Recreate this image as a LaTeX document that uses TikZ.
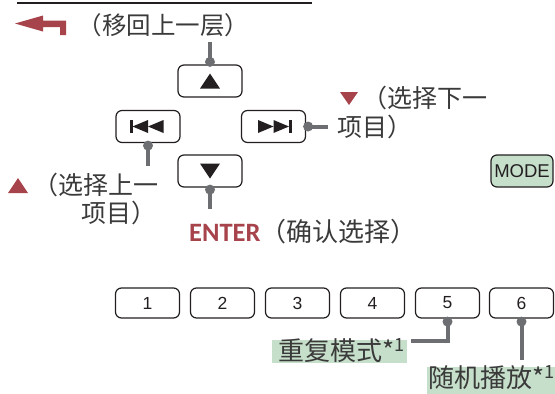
\documentclass[tikz,border=0pt]{standalone}
\usepackage{fontspec}
\newfontfamily\cjk{Noto Sans CJK SC}
\newfontfamily\arial{Liberation Sans}
\newfontfamily\entfont{Carlito}
\definecolor{redc}{HTML}{A6434B}
\definecolor{greyc}{HTML}{6D6E71}
\definecolor{txt}{HTML}{3A3A3A}
\definecolor{greenc}{HTML}{C6DFCA}
\definecolor{ink}{HTML}{231F20}
\begin{document}
\begin{tikzpicture}[x=1pt,y=-1pt,
  btn/.style={draw=ink, line width=1.2pt, rounded corners=6pt, minimum width=64pt, minimum height=32pt, inner sep=0pt},
  nbtn/.style={btn, minimum height=30pt, font=\arial\fontsize{17.5}{20}\selectfont, text=ink},
  conn/.style={draw=greyc, line width=4pt},
  dotc/.style={fill=greyc},
  lbl/.style={inner sep=0pt, text=txt, font=\cjk\fontsize{25}{28}\selectfont},
  glbl/.style={fill=greenc, inner ysep=0pt, text=txt, font=\cjk\fontsize{26}{28}\selectfont, text height=20pt, text depth=3pt},
  sym/.style={fill=ink}
]
\useasboundingbox (0,0) rectangle (555,394);

% cropped header underline
\draw[ink, line width=1.8pt] (17,3) -- (312,3);

% return arrow
\fill[redc] (15,23.5) -- (43,15.5) -- (43,20.5) -- (66,20.5) -- (66,35) -- (60,35) -- (60,27) -- (43,27) -- (43,31.5) -- cycle;
\node[lbl, font=\cjk\fontsize{24.5}{28}\selectfont] (tback) at (163.5,25) {（移回上一层）};

% buttons
\node[btn] (up) at (210,81) {};
\node[btn] (prev) at (148,126.5) {};
\node[btn] (next) at (273.5,126.5) {};
\node[btn] (down) at (210,171) {};
\node[btn, minimum width=62pt, fill=greenc, font=\arial\fontsize{18.5}{20}\selectfont, text=ink] (mode) at (522,171) {MODE};

% symbols
\begin{scope}[shift={(up.center)}]
  \fill[sym] (-10,7.5) -- (10,7.5) -- (0,-7.5) -- cycle;
\end{scope}
\begin{scope}[shift={(down.center)}]
  \fill[sym] (-10,-7.5) -- (10,-7.5) -- (0,7.5) -- cycle;
\end{scope}
\begin{scope}[shift={(prev.center)}]
  \fill[sym] (-18,-6.5) rectangle (-15.5,6.5);
  \fill[sym] (-15.5,0) -- (0,-6.5) -- (0,6.5) -- cycle;
  \fill[sym] (0,0) -- (15.5,-6.5) -- (15.5,6.5) -- cycle;
\end{scope}
\begin{scope}[shift={(next.center)}]
  \fill[sym] (15.5,-6.5) rectangle (18,6.5);
  \fill[sym] (15.5,0) -- (0,-6.5) -- (0,6.5) -- cycle;
  \fill[sym] (0,0) -- (-15.5,-6.5) -- (-15.5,6.5) -- cycle;
\end{scope}

% labels
\fill[redc] (340,92) -- (358,92) -- (349,105) -- cycle;
\node[lbl, anchor=east] (tnext1) at (488,98) {（选择下一};
\node[lbl, anchor=west] (tnext2) at (337,127) {项目）};
\fill[redc] (8,193) -- (28,193) -- (18,178) -- cycle;
\node[lbl, anchor=east] (tprev1) at (159,185) {（选择上一};
\node[lbl, anchor=west] (tprev2) at (81,213) {项目）};
\node[lbl, anchor=west, font=\cjk\fontsize{26}{28}\selectfont] (tenter) at (189,232) {{\entfont\fontsize{26.5}{28}\selectfont\bfseries\color{redc}ENTER}（确认选择）};

% connectors
\coordinate (cup) at (210,42);
\coordinate (cprev) at (148,166);
\coordinate (cnext) at (328,126.5);
\coordinate (cdown) at (210,209);
\draw[conn] (cup) -- (up.north);
\fill[dotc] ([yshift=2.5pt]up.north) circle (5pt);
\draw[conn] (prev.south) -- (cprev);
\fill[dotc] ([yshift=-2.5pt]prev.south) circle (5pt);
\draw[conn] (next.east) -- (cnext);
\fill[dotc] ([xshift=2pt]next.east) circle (5pt);
\draw[conn] (down.south) -- (cdown);
\fill[dotc] ([yshift=-2pt]down.south) circle (5pt);

% number buttons
\node[nbtn] (b1) at (147.5,303) {1};
\node[nbtn] (b2) at (222.5,303) {2};
\node[nbtn] (b3) at (297.5,303) {3};
\node[nbtn] (b4) at (372.5,303) {4};
\node[nbtn] (b5) at (447.5,303) {5};
\node[nbtn] (b6) at (521.5,303) {6};

% green labels
\node[glbl, anchor=north east, text width=131pt, align=right, inner xsep=2pt] (rep) at (407,340) {重复模式*\textsuperscript{1}};
\node[glbl, anchor=north west, text width=130pt, align=left, inner xsep=1pt, text depth=8pt] (shuf) at (427,367) {随机播放*\textsuperscript{1}};

\coordinate (c5) at (411,341);
\coordinate (c6) at (521.5,360);
\draw[conn] (b5.south) |- (c5);
\fill[dotc] ([yshift=-3pt]b5.south) circle (5pt);
\draw[conn] (b6.south) -- (c6);
\fill[dotc] ([yshift=-3pt]b6.south) circle (5pt);
\end{tikzpicture}
\end{document}
